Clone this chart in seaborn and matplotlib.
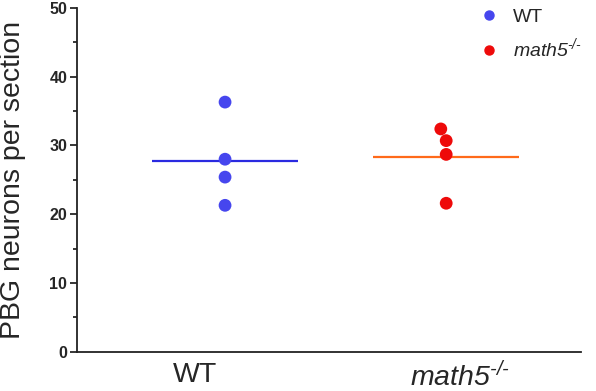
import matplotlib
matplotlib.use("Agg")
import matplotlib.pyplot as plt
import matplotlib.transforms as mtransforms
import seaborn as sns
import numpy as np
import pandas as pd
from matplotlib.lines import Line2D

# Data
groups = ["WT", "math5"]
wt_values = [36.3, 28.0, 25.4, 21.3]
math5_values = [32.4, 30.7, 28.7, 21.6]
tick_labels = ["WT", r"$\text{math5}^{\text{-/-}}$"]
legend_labels = ["WT", r"$\text{math5}^{\text{-/-}}$"]
point_colors = ["#4646EE", "#EE0A0A"]
mean_colors = ["#2A2AE0", "#FF6A1A"]

df = pd.DataFrame({
    "group": ["WT"] * len(wt_values) + ["math5"] * len(math5_values),
    "value": wt_values + math5_values,
})

sns.set_style("ticks")
plt.rcParams["font.family"] = ["Liberation Sans", "DejaVu Sans"]
plt.rcParams["mathtext.fontset"] = "custom"
plt.rcParams["mathtext.it"] = "Liberation Sans:italic"
plt.rcParams["mathtext.rm"] = "Liberation Sans:italic"
plt.rcParams["mathtext.default"] = "rm"

fig = plt.figure(figsize=(5.96, 3.91), dpi=100)
ax = fig.add_axes([0.129, 0.1, 0.846, 0.88])

sns.swarmplot(data=df, x="group", y="value", hue="group", order=groups,
              palette=dict(zip(groups, point_colors)), size=9.2,
              linewidth=0, ax=ax, legend=False)

means = df.groupby("group")["value"].mean()
for i, g in enumerate(groups):
    ax.hlines(means[g], i - 0.33, i + 0.33, color=mean_colors[i], lw=1.6, zorder=1)

ax.set_ylim(0, 50)
ax.set_xlim(-0.67, 1.61)
ax.set_yticks([0, 10, 20, 30, 40, 50])
ax.set_yticks([5, 15, 25, 35, 45], minor=True)
ax.set_xticks([0, 1])
ax.set_xticklabels(tick_labels, fontsize=20.5)
ax.tick_params(axis="x", length=0, pad=7)
ax.tick_params(axis="y", which="major", length=5, width=1.3, labelsize=11.5, pad=2)
ax.tick_params(axis="y", which="minor", length=3, width=1.3)
for lab in ax.get_yticklabels():
    lab.set_fontweight("bold")
# horizontal label offsets as in the original layout
for lab, dx in zip(ax.get_xticklabels(), [-30, 14]):
    lab.set_transform(lab.get_transform() +
                      mtransforms.ScaledTranslation(dx / 100, 0, fig.dpi_scale_trans))
ax.set_xlabel("")
ax.set_ylabel("PBG neurons per section", fontsize=20.5)
ax.yaxis.set_label_coords(-0.101, 0.5)
for s in ["top", "right"]:
    ax.spines[s].set_visible(False)
for s in ["left", "bottom"]:
    ax.spines[s].set_linewidth(1.3)
    ax.spines[s].set_color("#222222")

handles = [Line2D([], [], marker="o", ls="", color=c, markersize=6.5) for c in point_colors]
ax.legend(handles, legend_labels, loc="upper right", bbox_to_anchor=(1.037, 1.05),
          frameon=False, fontsize=14, handletextpad=0.25, labelspacing=0.55)

fig.savefig("out.png", dpi=100)
